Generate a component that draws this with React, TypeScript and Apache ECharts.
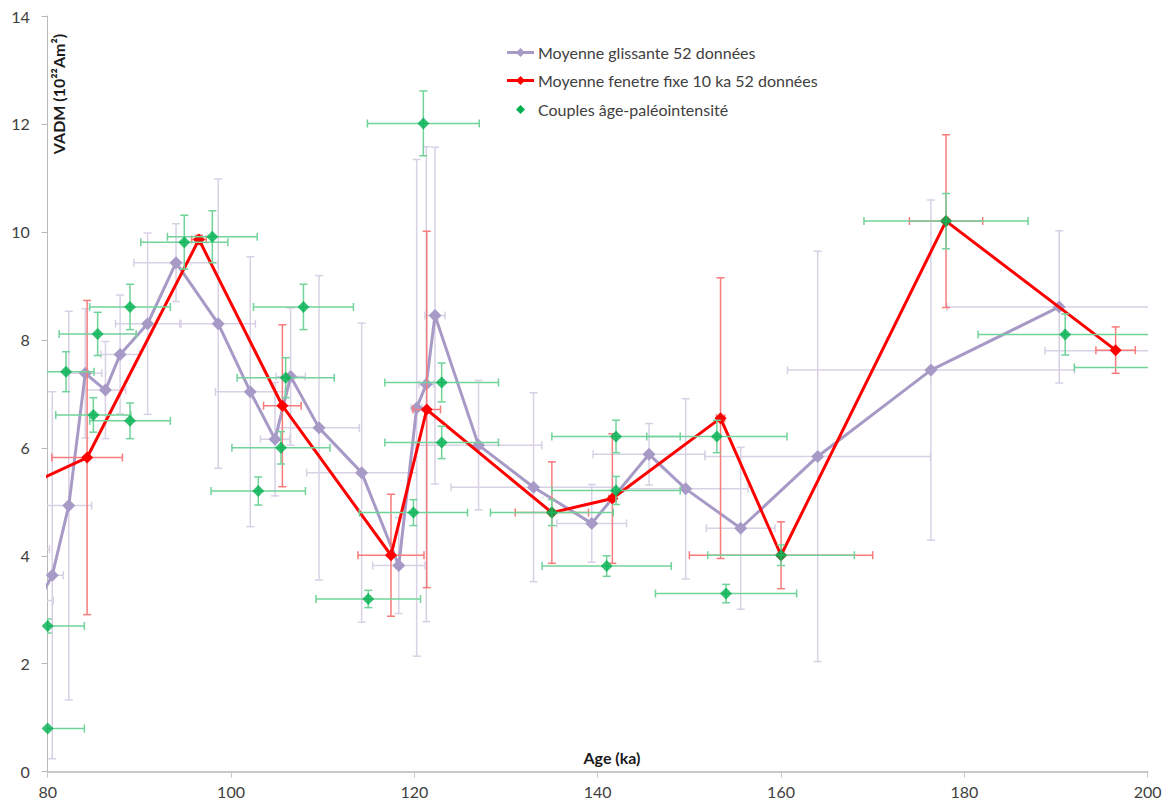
import React, { useEffect, useRef } from "react";
import * as echarts from "echarts";

// ---- Moyenne glissante 52 données (lilac) ----
const lilacX = [78.0, 79.0, 80.5, 82.3, 84.1, 86.3, 87.9, 90.9, 94.0, 98.6, 102.1, 104.8, 106.5, 109.6, 114.25, 118.3, 120.25, 121.3, 122.25, 127.0, 133.0, 139.35, 145.6, 149.6, 155.6, 164.0, 176.35, 190.35];
const lilacY = [4.12, 3.17, 3.64, 4.93, 7.38, 7.07, 7.73, 8.3, 9.43, 8.3, 7.04, 6.16, 7.32, 6.37, 5.54, 3.82, 6.74, 7.18, 8.45, 6.05, 5.27, 4.6, 5.88, 5.24, 4.51, 5.84, 7.44, 8.61];
const lilacXErr = [2.2, 1.6, 1.2, 2.5, 1.8, 2.2, 2.1, 3.5, 4.6, 4.05, 3.8, 1.6, 1.6, 4.4, 6.0, 2.85, 0.6, 0.8, 1.1, 6.9, 9.0, 3.8, 6.1, 6.8, 3.75, 12.3, 15.65, 12.25];
const lilacYErr = [1.0, 1.0, 3.4, 3.6, 1.2, 0.9, 1.1, 1.68, 0.72, 2.68, 2.5, 1.05, 1.27, 2.82, 2.77, 0.89, 4.6, 4.4, 3.12, 1.2, 1.75, 0.72, 0.57, 1.67, 1.5, 3.8, 3.15, 1.41];
// lone lilac error bar whose point lies beyond the axis
const lilacExtraX = [201.0];
const lilacExtraY = [7.8];
const lilacExtraXErr = [12.2];
const lilacExtraYErr = [0];

// ---- Moyenne fenetre fixe 10 ka 52 données (red) ----
const redX = [75.0, 84.3, 96.5, 105.6, 117.45, 121.35, 135.0, 141.6, 153.4, 160.0, 178.0, 196.5];
const redY = [5.09, 5.82, 9.86, 6.78, 4.01, 6.71, 4.8, 5.06, 6.55, 4.01, 10.2, 7.81];
const redXErr = [0, 3.85, 0.8, 2.05, 3.6, 1.5, 4.0, 0.4, 0.45, 10.0, 4.0, 2.15];
const redYErr = [0, 2.91, 0.08, 1.5, 1.13, 3.3, 0.94, 1.2, 2.6, 0.62, 1.6, 0.43];

// ---- Couples âge-paléointensité (green) ----
const greenX = [80.0, 80.0, 82.0, 85.45, 88.98, 84.98, 88.98, 94.9, 97.96, 107.9, 105.96, 105.45, 102.97, 114.97, 119.9, 120.98, 122.98, 122.98, 135.0, 142.0, 142.0, 140.98, 153.0, 154.0, 160.0, 178.0, 191.0, 201.5];
const greenY = [0.8, 2.7, 7.41, 8.11, 8.61, 6.61, 6.5, 9.81, 9.91, 8.61, 7.3, 6.0, 5.2, 3.2, 4.8, 12.01, 7.21, 6.1, 4.8, 6.21, 5.21, 3.81, 6.21, 3.3, 4.01, 10.2, 8.1, 7.49];
const greenXErr = [4.0, 4.0, 3.05, 4.2, 4.4, 4.1, 4.4, 4.75, 4.9, 5.45, 5.3, 5.35, 5.15, 5.7, 5.9, 6.1, 6.2, 6.2, 6.7, 7.0, 7.0, 7.05, 7.65, 7.7, 8.0, 8.95, 9.5, 9.5];
const greenYErr = [0, 0.13, 0.37, 0.4, 0.42, 0.32, 0.33, 0.5, 0.48, 0.42, 0.37, 0.3, 0.26, 0.16, 0.24, 0.6, 0.36, 0.3, 0.24, 0.3, 0.26, 0.19, 0.3, 0.17, 0.19, 0.51, 0.38, 0.3];

const xAxisMin = 80;
const xAxisMax = 200;
const xAxisStep = 20;
const yAxisMin = 0;
const yAxisMax = 14;
const yAxisStep = 2;

const seriesNames = [
  "Moyenne glissante 52 données",
  "Moyenne fenetre fixe 10 ka 52 données",
  "Couples âge-paléointensité",
];

const LILAC = "#a79ac6";
const LILAC_BAR = "#d8d1e6";
const RED = "#ff0000";
const RED_BAR = "#f77b7b";
const GREEN = "#00b050";
const GREEN_BAR = "#72d39a";
const FONT = "Lato, 'Noto Sans', sans-serif";

function zip4(a: number[], b: number[], c: number[], d: number[]) {
  return a.map((v, i) => [v, b[i], c[i], d[i]]);
}

function errorBars(name: string, data: number[][], color: string, z: number) {
  return {
    type: "custom",
    name,
    data,
    z,
    clip: true,
    silent: true,
    encode: { x: 0, y: 1 },
    renderItem: (_params: any, api: any) => {
      const x = api.value(0) as number;
      const y = api.value(1) as number;
      const ex = api.value(2) as number;
      const ey = api.value(3) as number;
      const cap = 4;
      const st = { stroke: color, lineWidth: 1.5, fill: "none" };
      const children: any[] = [];
      if (ex > 0) {
        const l = api.coord([x - ex, y]);
        const r = api.coord([x + ex, y]);
        children.push({ type: "line", shape: { x1: l[0], y1: l[1], x2: r[0], y2: r[1] }, style: st });
        children.push({ type: "line", shape: { x1: l[0], y1: l[1] - cap, x2: l[0], y2: l[1] + cap }, style: st });
        children.push({ type: "line", shape: { x1: r[0], y1: r[1] - cap, x2: r[0], y2: r[1] + cap }, style: st });
      }
      if (ey > 0) {
        const t = api.coord([x, y + ey]);
        const b = api.coord([x, y - ey]);
        children.push({ type: "line", shape: { x1: t[0], y1: t[1], x2: b[0], y2: b[1] }, style: st });
        children.push({ type: "line", shape: { x1: t[0] - cap, y1: t[1], x2: t[0] + cap, y2: t[1] }, style: st });
        children.push({ type: "line", shape: { x1: b[0] - cap, y1: b[1], x2: b[0] + cap, y2: b[1] }, style: st });
      }
      return { type: "group", children };
    },
  };
}

function diamond(cx: number, cy: number, r: number, fill: string) {
  return {
    type: "polygon",
    shape: { points: [[cx, cy - r], [cx + r, cy], [cx, cy + r], [cx - r, cy]] },
    style: { fill },
  };
}

function legendGraphics() {
  const x0 = 507;
  const x1 = 534;
  const rows = [52.5, 80.5, 109.5];
  const els: any[] = [];
  els.push({ type: "line", shape: { x1: x0, y1: rows[0], x2: x1, y2: rows[0] }, style: { stroke: LILAC, lineWidth: 3 } });
  els.push(diamond((x0 + x1) / 2, rows[0], 4.5, LILAC));
  els.push({ type: "line", shape: { x1: x0, y1: rows[1], x2: x1, y2: rows[1] }, style: { stroke: RED, lineWidth: 3 } });
  els.push(diamond((x0 + x1) / 2, rows[1], 4.5, RED));
  els.push(diamond((x0 + x1) / 2, rows[2], 4.5, GREEN));
  rows.forEach((ry, i) => {
    els.push({
      type: "text",
      x: 538,
      y: ry,
      style: { text: seriesNames[i], font: `16px ${FONT}`, fill: "#404040", align: "left", verticalAlign: "middle", textAlign: "left", textVerticalAlign: "middle" },
    });
  });
  return els;
}

export default function App() {
  const ref = useRef<HTMLDivElement>(null);
  useEffect(() => {
    document.body.style.margin = "0";
    const chart = echarts.init(ref.current!, null, { renderer: "svg" });
    const option: any = {
      animation: false,
      backgroundColor: "#ffffff",
      grid: { left: 47.7, right: 22.3, top: 16, bottom: 33.3, containLabel: false },
      xAxis: {
        type: "value",
        min: xAxisMin,
        max: xAxisMax,
        interval: xAxisStep,
        splitLine: { show: false },
        axisLine: { show: true, onZero: false, lineStyle: { color: "#c8c8c8", width: 2 } },
        axisTick: { show: true, length: 6, lineStyle: { color: "#c8c8c8", width: 1 } },
        axisLabel: { color: "#404040", fontSize: 16, fontFamily: FONT, margin: 12 },
      },
      yAxis: {
        type: "value",
        min: yAxisMin,
        max: yAxisMax,
        interval: yAxisStep,
        splitLine: { show: false },
        axisLine: { show: true, onZero: false, lineStyle: { color: "#b8b8b8", width: 1 } },
        axisTick: { show: true, length: 6, lineStyle: { color: "#b8b8b8", width: 1 } },
        axisLabel: { color: "#404040", fontSize: 16, fontFamily: FONT, margin: 18 },
      },
      graphic: [
        {
          type: "text",
          x: 58,
          y: 94,
          rotation: Math.PI / 2,
          style: { text: "VADM (10²²Am²)", font: `bold 16px ${FONT}`, fill: "#1a1a1a", align: "center", verticalAlign: "middle", textAlign: "center", textVerticalAlign: "middle" },
        },
        {
          type: "text",
          x: 612,
          y: 757,
          style: { text: "Age (ka)", font: `bold 16px ${FONT}`, fill: "#1a1a1a", align: "center", verticalAlign: "middle", textAlign: "center", textVerticalAlign: "middle" },
        },
        ...legendGraphics(),
      ],
      series: [
        errorBars("lilac-err", zip4(lilacX, lilacY, lilacXErr, lilacYErr), LILAC_BAR, 1),
        errorBars("lilac-extra-err", zip4(lilacExtraX, lilacExtraY, lilacExtraXErr, lilacExtraYErr), LILAC_BAR, 1),
        {
          type: "line",
          name: seriesNames[0],
          data: lilacX.map((v, i) => [v, lilacY[i]]),
          z: 2,
          clip: true,
          symbol: "diamond",
          symbolSize: 13,
          lineStyle: { color: LILAC, width: 3 },
          itemStyle: { color: LILAC },
        },
        errorBars("red-err", zip4(redX, redY, redXErr, redYErr), RED_BAR, 3),
        {
          type: "line",
          name: seriesNames[1],
          data: redX.map((v, i) => [v, redY[i]]),
          z: 4,
          clip: true,
          symbol: "diamond",
          symbolSize: 12,
          lineStyle: { color: RED, width: 3 },
          itemStyle: { color: RED },
        },
        errorBars("green-err", zip4(greenX, greenY, greenXErr, greenYErr), GREEN_BAR, 5),
        {
          type: "scatter",
          name: seriesNames[2],
          data: greenX.map((v, i) => [v, greenY[i]]),
          z: 6,
          clip: true,
          symbol: "diamond",
          symbolSize: 12,
          itemStyle: { color: GREEN },
        },
      ],
    };
    chart.setOption(option);
    return () => chart.dispose();
  }, []);
  return <div ref={ref} style={{ width: 1170, height: 805 }} />;
}
